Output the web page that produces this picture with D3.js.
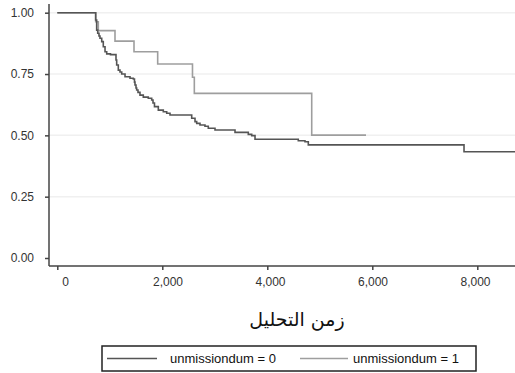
<!DOCTYPE html>
<html><head><meta charset="utf-8">
<script src="https://cdn.jsdelivr.net/npm/d3@7"></script>
<style>body{margin:0;background:#fff;}svg{display:block;}</style>
</head><body>
<svg id="c" width="515" height="373"></svg>
<script>
// Kaplan-Meier step data
const times0 = [0,731,750,770,794,813,846,876,909,941,1013,1118,1131,1162,1194,1227,1290,1385,1448,1470,1480,1499,1512,1537,1575,1638,1733,1798,1823,1851,1924,2019,2084,2147,2560,2623,2655,2718,2813,2876,3004,3385,3638,3703,3766,4590,4718,4781,7747,8720];
const surv0  = [1,0.970,0.929,0.916,0.905,0.896,0.882,0.861,0.841,0.832,0.829,0.807,0.787,0.766,0.758,0.750,0.739,0.733,0.730,0.717,0.705,0.693,0.685,0.675,0.664,0.656,0.651,0.644,0.632,0.617,0.603,0.596,0.590,0.583,0.570,0.556,0.549,0.542,0.537,0.529,0.522,0.512,0.504,0.499,0.484,0.478,0.474,0.461,0.433,0.433];
const times1 = [0,731,781,1099,1461,1912,2575,2610,4846,5880];
const surv1  = [1,0.963,0.927,0.884,0.841,0.791,0.737,0.671,0.501,0.501];
const xTicks = [0,2000,4000,6000,8000];
const yTicks = [0,0.25,0.5,0.75,1];
const seriesNames = ["unmissiondum = 0","unmissiondum = 1"];
const xTitle = "زمن التحليل";

const svg = d3.select("#c");
const x = d3.scaleLinear().domain([0,8000]).range([57.3,477.3]);
const xLab = d3.scaleLinear().domain([0,8000]).range([65,475]);
const y = d3.scaleLinear().domain([0,1]).range([258,12.7]);
const axL = 49, axB = 266, plotRight = 515, plotTop = 4;

// gridlines
svg.append("g").selectAll("line").data(yTicks.filter(d=>d>0)).join("line")
  .attr("x1",axL).attr("x2",plotRight).attr("y1",d=>y(d)).attr("y2",d=>y(d))
  .attr("stroke","#f0f0f0").attr("stroke-width",1.5);

const line = d3.line().curve(d3.curveStepAfter).x(d=>x(d[0])).y(d=>y(d[1]));
const d0 = times0.map((t,i)=>[t,surv0[i]]);
const d1 = times1.map((t,i)=>[t,surv1[i]]);
const colors = ["#555555","#9e9e9e"];
svg.append("path").datum(d1).attr("d",line).attr("fill","none").attr("stroke",colors[1]).attr("stroke-width",1.6);
svg.append("path").datum(d0).attr("d",line).attr("fill","none").attr("stroke",colors[0]).attr("stroke-width",1.6);

// axes
const axisColor="#444";
svg.append("line").attr("x1",axL).attr("x2",axL).attr("y1",plotTop).attr("y2",axB).attr("stroke",axisColor).attr("stroke-width",1.5);
svg.append("line").attr("x1",axL).attr("x2",plotRight).attr("y1",axB).attr("y2",axB).attr("stroke",axisColor).attr("stroke-width",1.5);

const gy = svg.append("g").attr("transform",`translate(${axL},0)`)
  .call(d3.axisLeft(y).tickValues(yTicks).tickFormat(d3.format(".2f")).tickSize(4).tickPadding(11));
const gx = svg.append("g").attr("transform",`translate(0,${axB})`)
  .call(d3.axisBottom(x).tickValues(xTicks).tickFormat("").tickSize(4));
const gxl = svg.append("g").attr("transform",`translate(0,${axB})`)
  .call(d3.axisBottom(xLab).tickValues(xTicks).tickFormat(d3.format(",")).tickSize(0).tickPadding(11));
[gy,gx,gxl].forEach(g=>{
  g.select(".domain").remove();
  g.selectAll(".tick line").attr("stroke",axisColor).attr("stroke-width",1.5);
  g.selectAll("text").attr("font-family","Arial, 'Liberation Sans', sans-serif").attr("font-size",12).attr("fill","#333");
});

// axis title
svg.append("text").attr("x",297).attr("y",326).attr("text-anchor","middle")
  .attr("font-family","'DejaVu Sans', serif").attr("font-size",19).attr("fill","#111").text(xTitle);

// legend
const lg = svg.append("g");
lg.append("rect").attr("x",102).attr("y",346).attr("width",374).attr("height",25)
  .attr("fill","#fff").attr("stroke","#222").attr("stroke-width",1.5);
const items = [{x1:107,x2:157,tx:170},{x1:300,x2:348,tx:353}];
items.forEach((it,i)=>{
  lg.append("line").attr("x1",it.x1).attr("x2",it.x2).attr("y1",358.5).attr("y2",358.5)
    .attr("stroke",colors[i]).attr("stroke-width",1.5);
  lg.append("text").attr("x",it.tx).attr("y",363).attr("font-family","Arial, 'Liberation Sans', sans-serif")
    .attr("font-size",13).attr("fill","#111").text(seriesNames[i]);
});
</script>
</body></html>
